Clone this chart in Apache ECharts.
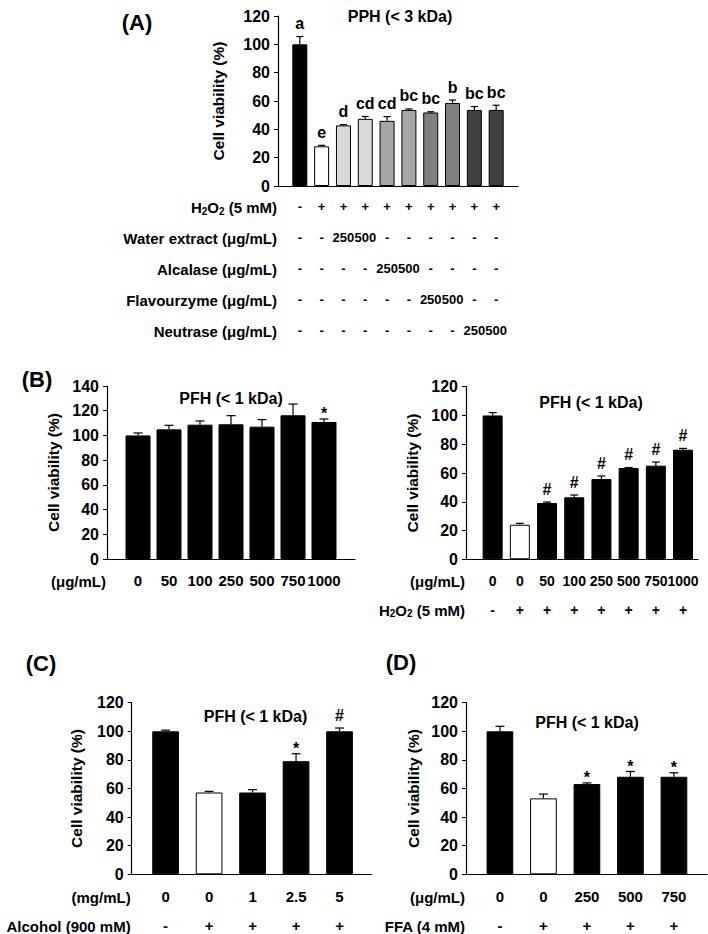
<!DOCTYPE html>
<html><head><meta charset="utf-8">
<script src="https://cdn.jsdelivr.net/npm/echarts@6/dist/echarts.min.js"></script>
<style>html,body{margin:0;padding:0;background:#fff}#c{width:708px;height:934px}</style>
</head><body><div id="c"></div>
<script>
const FONT = "'Liberation Sans', Arial, Helvetica, sans-serif";

// ---------- Panel A : PPH (< 3 kDa) ----------
const aValues = [100, 28.0, 42.8, 47.4, 46.0, 53.7, 51.9, 58.6, 53.7, 53.7];
const aErrors = [5.5, 0.7, 0.5, 1.7, 3.0, 0.7, 0.5, 2.1, 2.4, 3.3];
const aMarks = ['a', 'e', 'd', 'cd', 'cd', 'bc', 'bc', 'b', 'bc', 'bc'];
const aH2O2 = ['-', '+', '+', '+', '+', '+', '+', '+', '+', '+'];
const aWater = ['-', '-', '250', '500', '-', '-', '-', '-', '-', '-'];
const aAlcalase = ['-', '-', '-', '-', '250', '500', '-', '-', '-', '-'];
const aFlavourzyme = ['-', '-', '-', '-', '-', '-', '250', '500', '-', '-'];
const aNeutrase = ['-', '-', '-', '-', '-', '-', '-', '-', '250', '500'];

// ---------- Panel B left : PFH (< 1 kDa) ----------
const bLeftDose = ['0', '50', '100', '250', '500', '750', '1000'];
const bLeftValues = [100, 104.9, 108.7, 109.0, 107.1, 116.3, 110.9];
const bLeftErrors = [2.0, 3.3, 3.0, 7.0, 5.7, 9.1, 2.4];
const bLeftMarks = ['', '', '', '', '', '', '*'];

// ---------- Panel B right : PFH (< 1 kDa) + H2O2 ----------
const bRightDose = ['0', '0', '50', '100', '250', '500', '750', '1000'];
const bRightH2O2 = ['-', '+', '+', '+', '+', '+', '+', '+'];
const bRightValues = [100, 24.0, 39.1, 43.1, 55.8, 63.5, 65.1, 76.2];
const bRightErrors = [2.0, 1.0, 0.7, 1.6, 2.1, 0.3, 2.5, 0.9];
const bRightMarks = ['', '', '#', '#', '#', '#', '#', '#'];

// ---------- Panel C : alcohol ----------
const cDose = ['0', '0', '1', '2.5', '5'];
const cAlcohol = ['-', '+', '+', '+', '+'];
const cValues = [100, 57.2, 57.2, 79.1, 100];
const cErrors = [0.8, 0.8, 2.0, 5.2, 2.3];
const cMarks = ['', '', '', '*', '#'];

// ---------- Panel D : FFA ----------
const dDose = ['0', '0', '250', '500', '750'];
const dFFA = ['-', '+', '+', '+', '+'];
const dValues = [100, 53.1, 63.1, 68.2, 68.2];
const dErrors = [3.5, 3.0, 0.8, 3.7, 2.8];
const dMarks = ['', '', '*', '*', '*'];

// ---------- styles ----------
const aColors = ['#000000', '#ffffff', '#d9d9d9', '#d9d9d9', '#a6a6a6', '#a6a6a6', '#808080', '#808080', '#404040', '#404040'];
const ctrlColors = n => Array.from({length: n}, (_, i) => i === 1 ? '#ffffff' : '#000000');
const allBlack = n => Array.from({length: n}, () => '#000000');

const H2O2_NAME = 'H{s|2}O{s|2} (5 mM)';

const panels = [
  { grid: {left: 278, top: 16, width: 240, height: 170}, xMin: -1, xMax: 10, yMax: 120,
    barWidth: 15, cap: 3.5, yNameGap: 52, margin: 14, spacing: 31, rowFont: 13,
    values: aValues, errors: aErrors, marks: aMarks, colors: aColors,
    rows: [[H2O2_NAME, aH2O2], ['Water extract (μg/mL)', aWater], ['Alcalase (μg/mL)', aAlcalase],
           ['Flavourzyme (μg/mL)', aFlavourzyme], ['Neutrase (μg/mL)', aNeutrase]],
    title: ['PPH (< 3 kDa)', 400, 16] },
  { grid: {left: 107, top: 386, width: 248, height: 173}, xMin: -1, xMax: 7, yMax: 140,
    barWidth: 25, cap: 4.5, yNameGap: 46, margin: 14, spacing: 28, rowFont: 15,
    values: bLeftValues, errors: bLeftErrors, marks: bLeftMarks, colors: allBlack(7),
    rows: [['(μg/mL)', bLeftDose]],
    title: ['PFH (< 1 kDa)', 231, 398] },
  { grid: {left: 466, top: 386.7, width: 232, height: 172.6}, xMin: -0.98, xMax: 7.55, yMax: 120,
    barWidth: 20, cap: 4, yNameGap: 46, margin: 15, spacing: 28.4, rowFont: 14,
    values: bRightValues, errors: bRightErrors, marks: bRightMarks, colors: ctrlColors(8),
    rows: [['(μg/mL)', bRightDose], [H2O2_NAME, bRightH2O2]],
    title: ['PFH (< 1 kDa)', 591, 402] },
  { grid: {left: 131.7, top: 702.7, width: 240, height: 171.6}, xMin: -0.78, xMax: 4.74, yMax: 120,
    barWidth: 26.7, cap: 4.5, yNameGap: 47, margin: 15, spacing: 28.3, rowFont: 15,
    values: cValues, errors: cErrors, marks: cMarks, colors: ctrlColors(5),
    rows: [['(mg/mL)', cDose], ['Alcohol (900 mM)', cAlcohol]],
    title: ['PFH (< 1 kDa)', 255.5, 716] },
  { grid: {left: 466, top: 702.7, width: 241, height: 171.6}, xMin: -0.78, xMax: 4.76, yMax: 120,
    barWidth: 26.7, cap: 4.5, yNameGap: 45, margin: 15, spacing: 28.3, rowFont: 15,
    values: dValues, errors: dErrors, marks: dMarks, colors: ctrlColors(5),
    rows: [['(μg/mL)', dDose], ['FFA (4 mM)', dFFA]],
    title: ['PFH (< 1 kDa)', 587, 722] }
];

const panelLabels = [['(A)', 137, 22], ['(B)', 37, 379], ['(C)', 41, 663], ['(D)', 401, 662]];

const txt = (size) => ({color: '#000', fontWeight: 'bold', fontSize: size, fontFamily: FONT});

const grids = [], xAxes = [], yAxes = [], series = [], graphics = [];

panels.forEach((p, pi) => {
  grids.push(Object.assign({outerBoundsMode: 'none', containLabel: false}, p.grid));
  const mainX = xAxes.length;
  p.rows.forEach(([title, labels], k) => {
    xAxes.push({
      type: 'value', gridIndex: pi, min: p.xMin, max: p.xMax, position: 'bottom', offset: k * p.spacing,
      axisLine: {show: k === 0, onZero: false, lineStyle: {color: '#000', width: 1.2}},
      axisTick: {show: false}, splitLine: {show: false},
      axisLabel: Object.assign(txt(p.rowFont), {
        show: true, margin: p.margin, hideOverlap: false, showMinLabel: true, showMaxLabel: false,
        // last custom value is an empty placeholder at the axis end, so no real label gets dropped
        customValues: labels.map((_, i) => i).concat([p.xMax]),
        formatter: v => { const i = Math.round(v); return (Math.abs(v - i) < 1e-6 && i >= 0 && i < labels.length) ? labels[i] : ''; }
      }),
      name: title, nameLocation: 'start', nameGap: 1, nameMoveOverlap: false,
      nameTextStyle: Object.assign(txt(15), {
        verticalAlign: 'top', align: 'right', padding: [p.margin - (p.rowFont < 15 ? 1 : 0), 0, 0, 0], lineHeight: 17,
        rich: {s: Object.assign(txt(10), {verticalAlign: 'bottom', lineHeight: 10})}
      })
    });
  });
  yAxes.push({
    type: 'value', gridIndex: pi, min: 0, max: p.yMax, interval: 20,
    axisLine: {show: true, onZero: false, lineStyle: {color: '#000', width: 1.2}},
    axisTick: {show: true, inside: false, length: 4, lineStyle: {color: '#000', width: 1}},
    splitLine: {show: false},
    axisLabel: Object.assign(txt(16), {margin: 8}),
    name: 'Cell viability (%)', nameLocation: 'middle', nameRotate: 90, nameGap: p.yNameGap,
    nameMoveOverlap: false, nameTextStyle: txt(15.5)
  });
  series.push({
    type: 'bar', xAxisIndex: mainX, yAxisIndex: pi, barWidth: p.barWidth, z: 2,
    data: p.values.map((v, i) => [i, v]),
    itemStyle: {color: params => p.colors[params.dataIndex], borderColor: '#000', borderWidth: 1}
  });
  series.push({
    type: 'custom', xAxisIndex: mainX, yAxisIndex: pi, clip: false, z: 5,
    data: p.values.map((v, i) => [i, v, p.errors[i]]),
    renderItem: (params, api) => {
      const i = api.value(0), v = api.value(1), e = api.value(2);
      const base = api.coord([i, v]), top = api.coord([i, v + e]);
      const mark = p.marks[params.dataIndex];
      const ch = [
        {type: 'line', shape: {x1: base[0], y1: base[1], x2: top[0], y2: top[1]}, style: {stroke: '#000', lineWidth: 1.2}},
        {type: 'line', shape: {x1: top[0] - p.cap, y1: top[1], x2: top[0] + p.cap, y2: top[1]}, style: {stroke: '#000', lineWidth: 1.2}}
      ];
      if (mark) {
        ch.push({type: 'text', x: top[0], y: top[1] + (mark === '*' ? 3 : -5),
          style: {text: mark, align: 'center', verticalAlign: 'bottom', fill: '#000',
                  font: 'bold 16px ' + FONT}});
      }
      return {type: 'group', children: ch};
    }
  });
  graphics.push({type: 'text', x: p.title[1], y: p.title[2],
    style: {text: p.title[0], align: 'center', verticalAlign: 'middle', fill: '#000', font: 'bold 16px ' + FONT}});
});

panelLabels.forEach(([t, x, y]) => graphics.push({type: 'text', x, y,
  style: {text: t, align: 'center', verticalAlign: 'middle', fill: '#000', font: 'bold 22px ' + FONT}}));

const chart = echarts.init(document.getElementById('c'), null, {renderer: 'svg', width: 708, height: 934});
chart.setOption({
  backgroundColor: '#fff', animation: false,
  grid: grids, xAxis: xAxes, yAxis: yAxes, series, graphic: graphics
});
</script></body></html>
